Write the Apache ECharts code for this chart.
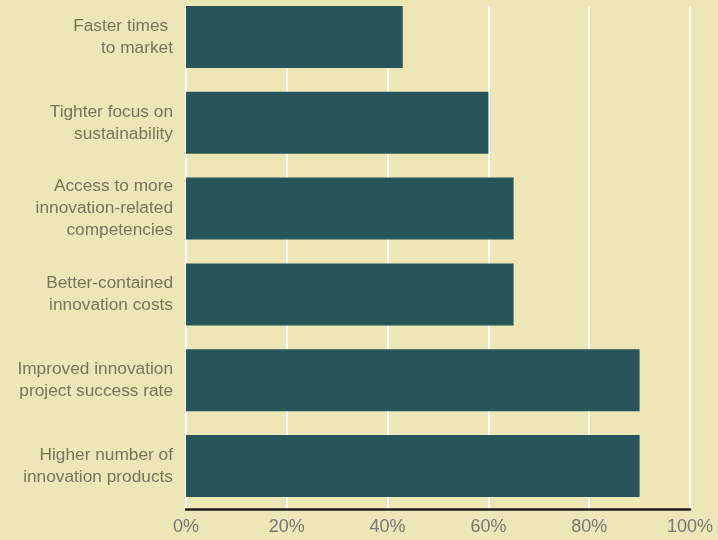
<!DOCTYPE html>
<html>
<head>
<meta charset="utf-8">
<script src="https://cdn.jsdelivr.net/npm/echarts@6/dist/echarts.min.js"></script>
<style>
  html, body { margin: 0; padding: 0; background: #ede6b6; overflow: hidden; }
  /* canvas starts 6px above the window so the bar bands can begin above the visible top */
  #chart { position: absolute; left: 0; top: -6px; width: 718px; height: 546px; }
</style>
</head>
<body>
<div id="chart"></div>
<script>
// Benefit categories, top to bottom
const categories = [
  'Faster times \nto market',
  'Tighter focus on\nsustainability',
  'Access to more\ninnovation-related\ncompetencies',
  'Better-contained\ninnovation costs',
  'Improved innovation\nproject success rate',
  'Higher number of\ninnovation products'
];
// Share of respondents (%)
const shares = [43, 60, 65, 65, 90, 90];
// Percent axis ticks
const tickValues = [0, 20, 40, 60, 80, 100];

const chart = echarts.init(document.getElementById('chart'), null, { renderer: 'canvas' });

const fontFamily = '"Liberation Sans", Arial, Helvetica, sans-serif';

chart.setOption({
  backgroundColor: '#ede6b6',
  animation: false,
  grid: [
    // bars
    { left: 186, right: 28, top: 0, height: 515, containLabel: false },
    // percent scale, gridlines and baseline
    { left: 186, right: 28, top: 12, height: 503, containLabel: false }
  ],
  xAxis: [
    {
      gridIndex: 0, type: 'value', min: 0, max: 100, show: false
    },
    {
      gridIndex: 1, type: 'value', min: tickValues[0], max: tickValues[tickValues.length - 1],
      interval: tickValues[1] - tickValues[0],
      axisLine: { show: true, onZero: false, lineStyle: { color: '#231f20', width: 2.5 } },
      axisTick: { show: false },
      splitLine: { show: true, lineStyle: { color: '#ffffff', width: 2 } },
      axisLabel: {
        margin: 9, color: '#777777', fontSize: 18, fontFamily: fontFamily,
        formatter: '{value}%'
      }
    }
  ],
  yAxis: [
    {
      gridIndex: 0, type: 'category', data: categories, inverse: true,
      axisLine: { show: false }, axisTick: { show: false }, splitLine: { show: false },
      axisLabel: {
        margin: 13, color: '#78745a', fontSize: 17.3, lineHeight: 22,
        fontFamily: fontFamily, align: 'right'
      }
    },
    {
      gridIndex: 1, type: 'category', data: categories, inverse: true, show: false
    }
  ],
  series: [
    {
      type: 'bar', xAxisIndex: 0, yAxisIndex: 0, data: shares,
      barWidth: 62, z: 3,
      itemStyle: { color: '#26565a' }
    }
  ]
});
</script>
</body>
</html>
